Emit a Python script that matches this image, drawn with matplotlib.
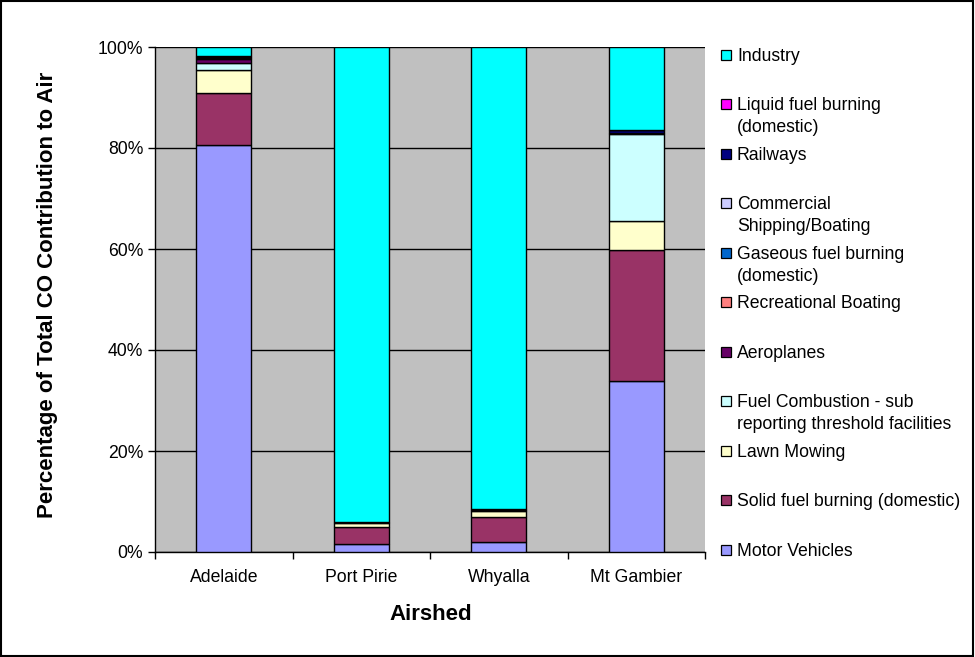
import matplotlib
matplotlib.use("Agg")
import matplotlib.pyplot as plt
from matplotlib.patches import Rectangle
import numpy as np

airsheds = ["Adelaide", "Port Pirie", "Whyalla", "Mt Gambier"]

series_names = [
    "Motor Vehicles",
    "Solid fuel burning (domestic)",
    "Lawn Mowing",
    "Fuel Combustion - sub\nreporting threshold facilities",
    "Aeroplanes",
    "Recreational Boating",
    "Gaseous fuel burning\n(domestic)",
    "Commercial\nShipping/Boating",
    "Railways",
    "Liquid fuel burning\n(domestic)",
    "Industry",
]
series_colors = ["#9999FF", "#993366", "#FFFFCC", "#CCFFFF", "#660066", "#FF8080",
                 "#0066CC", "#CCCCFF", "#000080", "#FF00FF", "#00FFFF"]

motor_vehicles = [80.5, 1.6, 2.0, 33.9]
solid_fuel = [10.4, 3.4, 4.9, 25.9]
lawn_mowing = [4.5, 0.8, 1.2, 5.7]
fuel_combustion = [1.4, 0.1, 0.3, 17.3]
aeroplanes = [0.9, 0.0, 0.0, 0.2]
recreational_boating = [0.2, 0.0, 0.0, 0.0]
gaseous_fuel = [0.1, 0.0, 0.0, 0.0]
commercial_shipping = [0.1, 0.0, 0.0, 0.0]
railways = [0.1, 0.0, 0.1, 0.6]
liquid_fuel = [0.1, 0.0, 0.0, 0.0]
industry = [1.7, 94.1, 91.5, 16.4]

series_values = [motor_vehicles, solid_fuel, lawn_mowing, fuel_combustion, aeroplanes,
                 recreational_boating, gaseous_fuel, commercial_shipping, railways,
                 liquid_fuel, industry]

y_ticks = [0, 20, 40, 60, 80, 100]
y_tick_labels = ["0%", "20%", "40%", "60%", "80%", "100%"]

FONT = "Liberation Sans"
FS = 12.7

W, H = 975, 657
fig = plt.figure(figsize=(W / 100, H / 100), dpi=100)
fig.patch.set_facecolor("white")
fig.patches.append(Rectangle((0.001, 0.001), 0.997, 0.997, transform=fig.transFigure,
                             fill=False, edgecolor="black", linewidth=1.5))

L, R, T, B = 155, 705, 47, 552
ax = fig.add_axes([L / W, 1 - B / H, (R - L) / W, (B - T) / H])
ax.set_facecolor("#C0C0C0")

x = np.arange(len(airsheds))
bottom = np.zeros(len(airsheds))
for vals, col in zip(series_values, series_colors):
    v = np.array(vals, dtype=float)
    ax.bar(x, v, bottom=bottom, width=0.4, color=col, edgecolor="black", linewidth=1.0, zorder=3)
    bottom += v

ax.set_xlim(-0.5, len(airsheds) - 0.5)
ax.set_ylim(0, 100)
ax.set_yticks(y_ticks)
ax.set_yticklabels(y_tick_labels, fontsize=FS, family=FONT)
ax.yaxis.grid(True, color="black", linewidth=1.0, zorder=1)
ax.set_axisbelow(True)
ax.set_xticks(x)
ax.set_xticklabels(airsheds, fontsize=FS, family=FONT)
ax.set_xticks(np.arange(len(airsheds) + 1) - 0.5, minor=True)
ax.tick_params(axis="x", which="major", length=0, pad=12)
ax.tick_params(axis="x", which="minor", length=5, direction="out", width=1)
ax.tick_params(axis="y", length=5, direction="out", width=1, pad=3.5)
for s in ["top", "right"]:
    ax.spines[s].set_visible(False)
for s in ["left", "bottom"]:
    ax.spines[s].set_color("black")
    ax.spines[s].set_linewidth(1.0)

ax.set_ylabel("Percentage of Total CO Contribution to Air", fontsize=16,
              fontweight="bold", family=FONT)
ax.set_xlabel("Airshed", fontsize=16, fontweight="bold", family=FONT)
ax.yaxis.label.set_va("center")
ax.xaxis.label.set_va("center")
ax.yaxis.set_label_coords((48 - L) / (R - L), (B - 295) / (B - T))
ax.xaxis.set_label_coords((431 - L) / (R - L), (B - 614) / (B - T))

# legend (top entry = last series)
y0, dy, line_h = 54.5, 49.5, 22
for i, idx in enumerate(range(len(series_names) - 1, -1, -1)):
    yc = y0 + i * dy
    fig.patches.append(Rectangle((721 / W, 1 - (yc + 5) / H), 10 / W, 10 / H,
                                 transform=fig.transFigure, facecolor=series_colors[idx],
                                 edgecolor="black", linewidth=0.9))
    for j, line in enumerate(series_names[idx].split("\n")):
        fig.text(737 / W, 1 - (yc + 6.3 + j * line_h) / H, line, fontsize=FS,
                 family=FONT, va="baseline", ha="left")

fig.savefig("out.png", dpi=100)
